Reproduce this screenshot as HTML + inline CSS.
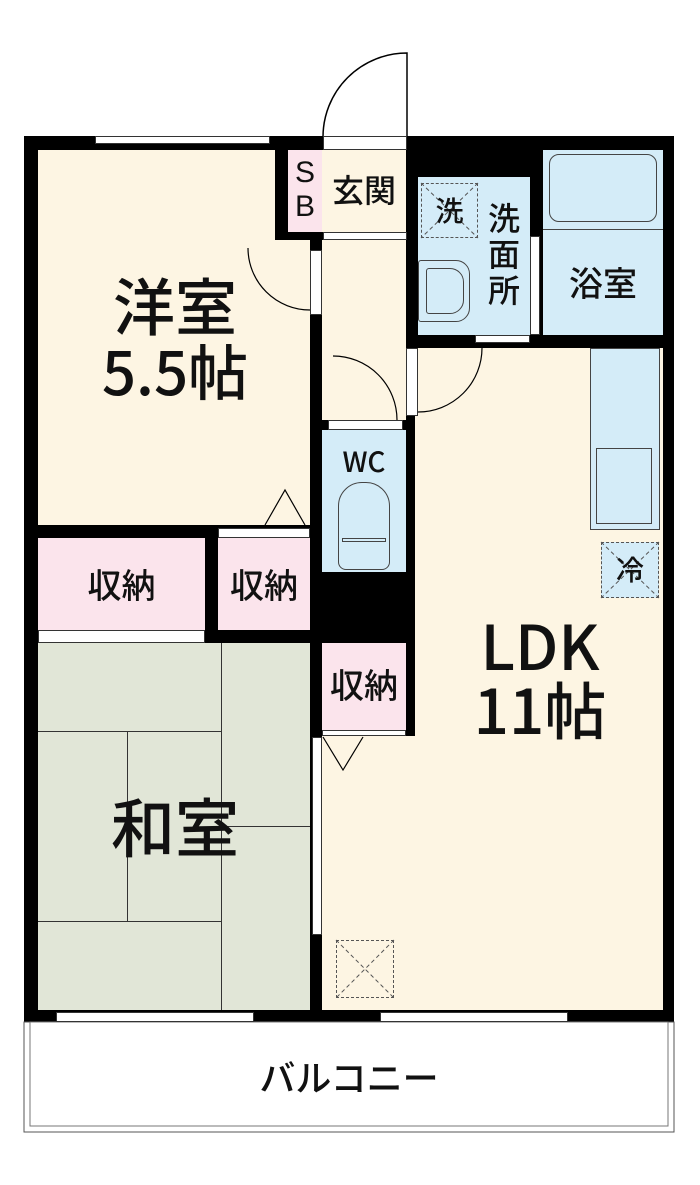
<!DOCTYPE html><html><head><meta charset="utf-8"><style>
body{margin:0;width:700px;height:1185px;background:#fff;position:relative;overflow:hidden;font-family:"Noto Sans CJK JP","Liberation Sans",sans-serif}
div{position:absolute;box-sizing:border-box}
.b{background:#000}.c{background:#fdf5e3}.p{background:#fbe4ec}.u{background:#d4ecf8}.g{background:#e1e6d7}
.t{color:#111;text-align:center;line-height:1;white-space:nowrap;font-weight:500}
.w{background:#fff;border:1px solid #333}
</style></head><body>
<div class="b" style="left:24px;top:136px;width:650px;height:886px"></div>
<div class="c" style="left:38px;top:150px;width:272px;height:375px"></div>
<div class="c" style="left:38px;top:150px;width:237px;height:90px"></div>
<div class="b" style="left:275px;top:150px;width:13px;height:90px"></div>
<div class="b" style="left:275px;top:232px;width:47px;height:8px"></div>
<div class="p" style="left:38px;top:538px;width:167px;height:92px"></div>
<div class="p" style="left:218px;top:538px;width:92px;height:92px"></div>
<div class="g" style="left:38px;top:643px;width:272px;height:367px"></div>
<div style="left:221px;top:643px;width:1px;height:367px;background:#333"></div>
<div style="left:38px;top:731px;width:183px;height:1px;background:#333"></div>
<div style="left:127px;top:731px;width:1px;height:190px;background:#333"></div>
<div style="left:38px;top:921px;width:183px;height:1px;background:#333"></div>
<div style="left:221px;top:826px;width:89px;height:1px;background:#333"></div>
<div class="p" style="left:288px;top:150px;width:34px;height:82px"></div>
<div class="c" style="left:322px;top:150px;width:84px;height:82px"></div>
<div class="c" style="left:322px;top:240px;width:84px;height:180px"></div>
<div class="u" style="left:322px;top:430px;width:84px;height:142px"></div>
<div class="p" style="left:322px;top:643px;width:84px;height:87px"></div>
<div class="c" style="left:322px;top:736px;width:93px;height:274px"></div>
<div class="u" style="left:418px;top:177px;width:112px;height:158px"></div>
<div class="u" style="left:543px;top:150px;width:120px;height:185px"></div>
<div style="left:549px;top:154px;width:108px;height:68px;border:1.5px solid #444;border-radius:10px"></div>
<div style="left:543px;top:229px;width:120px;height:1px;background:#444"></div>
<div style="left:421px;top:183px;width:57px;height:55px;border:1.5px dashed #555"></div>
<div style="left:418px;top:260px;width:52px;height:62px;border:1.5px solid #444;border-radius:3px 14px 14px 3px;background:#d4ecf8"></div>
<div style="left:426px;top:268px;width:38px;height:46px;border:1.5px solid #444;border-radius:3px 14px 14px 3px"></div>
<div class="w" style="left:530px;top:236px;width:10px;height:99px"></div>
<div class="c" style="left:415px;top:348px;width:248px;height:662px"></div>
<div class="u" style="left:590px;top:348px;width:70px;height:182px;border:1px solid #444"></div>
<div style="left:596px;top:448px;width:56px;height:76px;border:1px solid #444"></div>
<div style="left:601px;top:542px;width:58px;height:56px;border:1.5px dashed #555;background:#d4ecf8"></div>
<div style="left:336px;top:940px;width:58px;height:58px;border:1.5px dashed #555"></div>
<div style="left:338px;top:482px;width:52px;height:88px;border:1.5px solid #444;border-radius:24px 24px 8px 8px;background:#d4ecf8"></div>
<div style="left:342px;top:538px;width:44px;height:4px;border:1px solid #444"></div>
<svg style="position:absolute;left:0;top:0" width="700" height="1185">
<path d="M323 137 A84 84 0 0 1 407 53 L407 137" fill="none" stroke="#000" stroke-width="1.5"/>
<path d="M248 248 A62 62 0 0 0 310 310" fill="none" stroke="#000" stroke-width="1.2"/>
<path d="M333 356 A64 64 0 0 1 397 420" fill="none" stroke="#000" stroke-width="1.2"/>
<path d="M482 348 A64 64 0 0 1 418 412" fill="none" stroke="#000" stroke-width="1.2"/>
<path d="M265 525 L285 490 L305 525" fill="none" stroke="#000" stroke-width="1.2"/>
<path d="M323 737 L343 770 L363 737" fill="none" stroke="#000" stroke-width="1.2"/>
<path d="M421 183 L478 238 M478 183 L421 238" stroke="#555" stroke-dasharray="4 3"/>
<path d="M336 940 L394 998 M394 940 L336 998" stroke="#555" stroke-dasharray="4 3"/>
<path d="M601 542 L659 598 M659 542 L601 598" stroke="#555" stroke-dasharray="4 3"/>
<rect x="24" y="1022" width="650" height="110" fill="none" stroke="#555"/>
<rect x="30" y="1022" width="638" height="104" fill="none" stroke="#777"/>
</svg>
<div class="w" style="left:95px;top:136px;width:175px;height:8px"></div>
<div class="w" style="left:323px;top:136px;width:84px;height:14px"></div>
<div class="w" style="left:323px;top:232px;width:84px;height:8px"></div>
<div class="w" style="left:310px;top:250px;width:12px;height:65px"></div>
<div class="w" style="left:406px;top:348px;width:12px;height:68px"></div>
<div class="w" style="left:328px;top:420px;width:75px;height:10px"></div>
<div class="w" style="left:218px;top:528px;width:92px;height:10px"></div>
<div class="w" style="left:38px;top:630px;width:167px;height:13px"></div>
<div class="w" style="left:322px;top:730px;width:84px;height:6px"></div>
<div class="w" style="left:312px;top:737px;width:10px;height:198px"></div>
<div class="w" style="left:475px;top:335px;width:55px;height:8px"></div>
<div class="w" style="left:56px;top:1012px;width:198px;height:10px"></div>
<div class="w" style="left:380px;top:1012px;width:188px;height:10px"></div>
<div class="t" style="left:288px;top:156px;width:34px;font-size:30px;line-height:34px;font-family:'Liberation Sans',sans-serif">S<br>B</div>
<div class="t" style="left:322px;top:173px;width:84px;font-size:32px">玄関</div>
<div class="t" style="left:421px;top:196px;width:57px;font-size:28px">洗</div>
<div class="t" style="left:482px;top:199px;width:44px;font-size:32px;line-height:36px">洗<br>面<br>所</div>
<div class="t" style="left:543px;top:265px;width:120px;font-size:34px">浴室</div>
<div class="t" style="left:40px;top:272px;width:270px;font-size:62px">洋室</div>
<div class="t" style="left:40px;top:340px;width:270px;font-size:60px">5.5帖</div>
<div class="t" style="left:322px;top:447px;width:84px;font-size:28px">WC</div>
<div class="t" style="left:38px;top:567px;width:167px;font-size:34px">収納</div>
<div class="t" style="left:218px;top:567px;width:92px;font-size:34px">収納</div>
<div class="t" style="left:322px;top:667px;width:84px;font-size:34px">収納</div>
<div class="t" style="left:601px;top:555px;width:58px;font-size:28px">冷</div>
<div class="t" style="left:420px;top:612px;width:240px;font-size:62px">LDK</div>
<div class="t" style="left:420px;top:676px;width:240px;font-size:62px">11帖</div>
<div class="t" style="left:40px;top:793px;width:270px;font-size:64px">和室</div>
<div class="t" style="left:24px;top:1058px;width:650px;font-size:36px">バルコニー</div>
</body></html>
